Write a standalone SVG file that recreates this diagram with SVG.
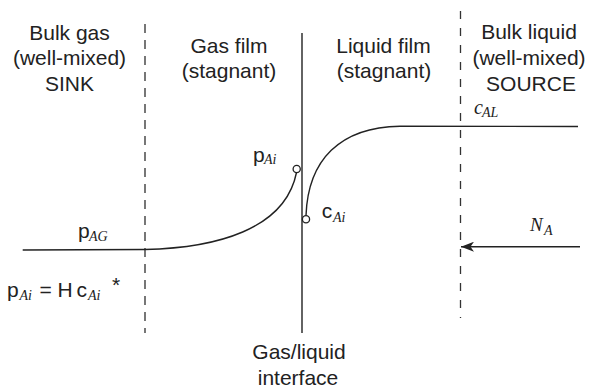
<svg xmlns="http://www.w3.org/2000/svg" width="592" height="388" viewBox="0 0 592 388">
  <defs>
    <style>
      .lbl { font-family: "Liberation Sans", Arial, Helvetica, sans-serif; font-size: 21px; fill: #222; text-anchor: middle; }
      .sym { font-family: "Liberation Sans", Arial, Helvetica, sans-serif; font-size: 21px; fill: #222; }
      .sub { font-family: "Liberation Serif", "Times New Roman", serif; font-style: italic; font-size: 14px; fill: #222; }
      .ital { font-family: "Liberation Serif", "Times New Roman", serif; font-style: italic; fill: #222; }
      .dash-l { stroke: #555; stroke-width: 1.6; stroke-dasharray: 9 7; fill: none; }
      .dash-r { stroke: #333; stroke-width: 1.3; stroke-dasharray: 8 9; fill: none; }
      .solid { stroke: #222; stroke-width: 1.4; fill: none; }
      .pt { stroke: #222; stroke-width: 1.3; fill: #fff; }
    </style>
    <marker id="arr" viewBox="0 0 13 10" refX="13" refY="5" markerWidth="13" markerHeight="10" markerUnits="userSpaceOnUse" orient="auto">
      <path d="M0,0 L13,5 L0,10 L3.5,5 Z" fill="#222"/>
    </marker>
  </defs>

  <g id="boundaries">
    <line class="dash-l" x1="145" y1="24" x2="145" y2="333"/>
    <line class="dash-r" x1="460.5" y1="11" x2="460.5" y2="318"/>
    <line class="solid" x1="302" y1="33" x2="302" y2="333" stroke-width="1.5"/>
  </g>

  <g id="bulk-gas">
    <text class="lbl" x="69.5" y="39.5">Bulk gas</text>
    <text class="lbl" x="69.5" y="65">(well-mixed)</text>
    <text class="lbl" x="69.5" y="90.7">SINK</text>
  </g>
  <g id="gas-film">
    <text class="lbl" x="229" y="52.7">Gas film</text>
    <text class="lbl" x="229" y="78.3">(stagnant)</text>
  </g>
  <g id="liquid-film">
    <text class="lbl" x="383.5" y="52.7">Liquid film</text>
    <text class="lbl" x="384" y="78.3">(stagnant)</text>
  </g>
  <g id="bulk-liquid">
    <text class="lbl" x="529" y="39.3">Bulk liquid</text>
    <text class="lbl" x="529" y="65">(well-mixed)</text>
    <text class="lbl" x="531" y="90.7">SOURCE</text>
  </g>
  <g id="interface">
    <text class="lbl" x="299" y="359.3">Gas/liquid</text>
    <text class="lbl" x="298" y="385">interface</text>
  </g>

  <g id="connectors">
    <path class="solid" d="M22.7,250 L145,249.5 C215,248 285,230 296.5,172.5"/>
    <path class="solid" d="M306,215.6 C308,160 340,127 400,126.2 L578,126.5"/>
    <line class="solid" x1="580" y1="246.7" x2="461" y2="246.7" marker-end="url(#arr)"/>
  </g>

  <g id="point-pAi">
    <circle class="pt" cx="296.7" cy="169" r="3.6"/>
    <text class="sym" x="253" y="162">p</text>
    <text class="sub" x="264" y="164">Ai</text>
  </g>
  <g id="point-cAi">
    <circle class="pt" cx="306" cy="219.3" r="3.6"/>
    <text class="sym" x="321.7" y="218.3">c</text>
    <text class="sub" x="333" y="222">Ai</text>
  </g>
  <g id="label-pAG">
    <text class="sym" x="78" y="238.3">p</text>
    <text class="sub" x="89" y="241">AG</text>
  </g>
  <g id="label-cAL">
    <text class="ital" font-size="20" x="474" y="113.5">c</text>
    <text class="sub" x="482" y="117">AL</text>
  </g>
  <g id="label-NA">
    <text class="ital" font-size="19" x="530" y="230.7">N</text>
    <text class="sub" font-size="13" x="544" y="235">A</text>
  </g>
  <g id="equation">
    <text class="sym" x="7" y="297">p</text>
    <text class="sub" x="19.5" y="300">Ai</text>
    <text class="sym" x="39.5" y="297">=</text>
    <text class="sym" x="57.5" y="297">H</text>
    <text class="sym" x="76.5" y="297">c</text>
    <text class="sub" x="88" y="300">Ai</text>
    <text class="sym" font-size="15" x="112" y="292">*</text>
  </g>
</svg>
